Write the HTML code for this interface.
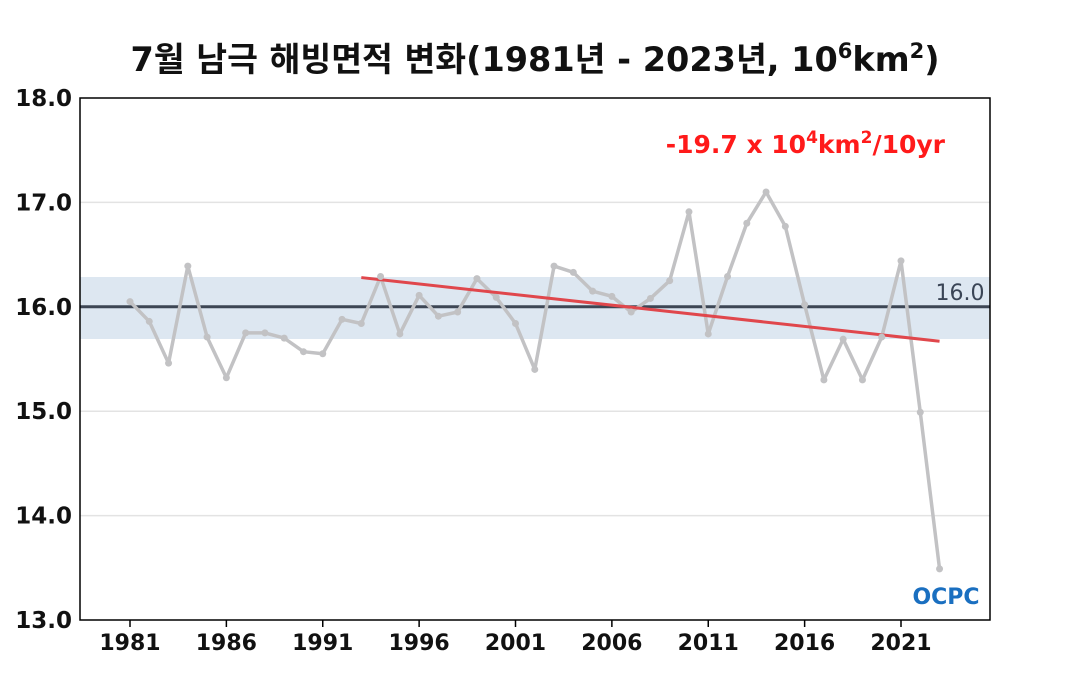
<!DOCTYPE html>
<html><head><meta charset="utf-8"><style>
body{margin:0;background:#fff;}
svg{display:block;font-family:"DejaVu Sans","Noto Sans CJK KR",sans-serif;}
</style></head><body>
<svg id="chart" width="1070" height="700">
<text x="535" y="71" text-anchor="middle" font-size="33.5" font-weight="bold" fill="#111">7월 남극 해빙면적 변화(1981년 - 2023년, 10<tspan dy="-13" font-size="21">6</tspan><tspan dy="13">km</tspan><tspan dy="-13" font-size="21">2</tspan><tspan dy="13">)</tspan></text>
<g id="grid"></g>
<rect x="80" y="277" width="910" height="62" fill="#dde7f1"/>
<g id="marks"></g>
<rect x="80" y="98" width="910" height="522" fill="none" stroke="#000" stroke-width="1.5"/>
<text x="945" y="153" text-anchor="end" font-size="25" font-weight="bold" fill="#ff1a1a">-19.7 x 10<tspan dy="-10" font-size="17">4</tspan><tspan dy="10">km</tspan><tspan dy="-10" font-size="17">2</tspan><tspan dy="10">/10yr</tspan></text>
<text x="960" y="300" text-anchor="middle" font-size="22" fill="#3a4556">16.0</text>
<text x="946" y="604" text-anchor="middle" font-size="22" font-weight="bold" fill="#1a6fc0">OCPC</text>
</svg>
<script>
const years=[1981,1982,1983,1984,1985,1986,1987,1988,1989,1990,1991,1992,1993,1994,1995,1996,1997,1998,1999,2000,2001,2002,2003,2004,2005,2006,2007,2008,2009,2010,2011,2012,2013,2014,2015,2016,2017,2018,2019,2020,2021,2022,2023];
const extent=[16.05,15.86,15.46,16.39,15.71,15.32,15.75,15.75,15.70,15.57,15.55,15.88,15.84,16.29,15.74,16.11,15.91,15.95,16.27,16.09,15.84,15.40,16.39,16.33,16.15,16.10,15.95,16.08,16.25,16.91,15.74,16.29,16.80,17.10,16.77,16.02,15.30,15.69,15.30,15.71,16.44,14.99,13.49];
const yTicks=[13,14,15,16,17,18];
const xTicks=[1981,1986,1991,1996,2001,2006,2011,2016,2021];
const meanValue=[16.0];
const trendYears=[1993,2023];
const trendValues=[16.28,15.67];
const ns="http://www.w3.org/2000/svg";
const X=yr=>130+(yr-1981)*19.275;
const Y=v=>620-(v-13)*104.4;
function mk(tag,attrs,parent){const e=document.createElementNS(ns,tag);for(const k in attrs)e.setAttribute(k,attrs[k]);parent.appendChild(e);return e;}
const svg=document.getElementById('chart'),grid=document.getElementById('grid'),marks=document.getElementById('marks');
yTicks.forEach(t=>{
  if(t>13&&t<18){const l=mk('line',{x1:80,x2:990,y1:Y(t),y2:Y(t),stroke:'#e3e3e3','stroke-width':1.5},grid);
  
  }
  const tx=mk('text',{x:72,y:Y(t)+8,'text-anchor':'end','font-size':23,'font-weight':'bold',fill:'#111'},svg);
  tx.textContent=t.toFixed(1);
  
  
});
xTicks.forEach(t=>{
  const tk=mk('line',{x1:X(t),x2:X(t),y1:620,y2:627,stroke:'#000','stroke-width':1.5},svg);
  
  
  const tx=mk('text',{x:X(t),y:650,'text-anchor':'middle','font-size':22,'font-weight':'bold',fill:'#111'},svg);
  tx.textContent=t;
  
  
});
const ml=mk('line',{x1:80,x2:990,y1:Y(meanValue[0]),y2:Y(meanValue[0]),stroke:'#3d4654','stroke-width':3},marks);


const pl=mk('polyline',{points:years.map((y,i)=>X(y)+','+Y(extent[i])).join(' '),fill:'none',stroke:'#c2c2c4','stroke-width':3.5,'stroke-linejoin':'round'},marks);


const tl=mk('line',{x1:X(trendYears[0]),y1:Y(trendValues[0]),x2:X(trendYears[1]),y2:Y(trendValues[1]),stroke:'#e0474c','stroke-width':3},marks);


years.forEach((y,i)=>{
  const c=mk('circle',{cx:X(y),cy:Y(extent[i]),r:3.5,fill:'#c2c2c4'},marks);
  
  
});
</script>
</body></html>
